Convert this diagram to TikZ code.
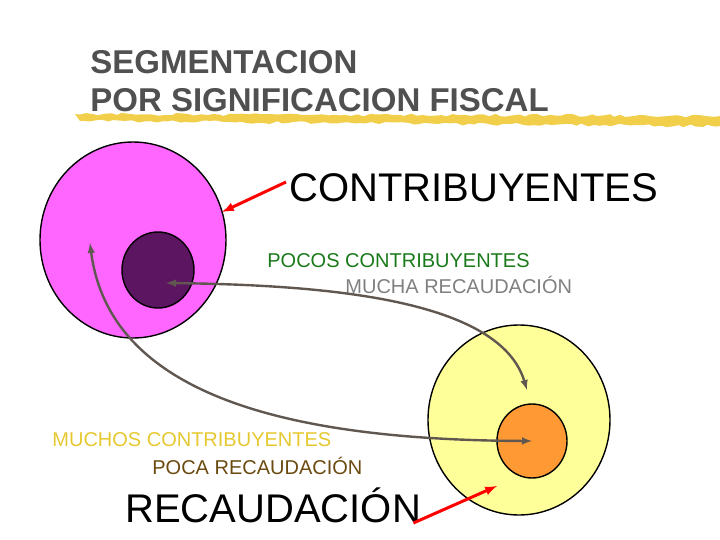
\documentclass[tikz,border=0pt]{standalone}
\usepackage{fontspec}
\setmainfont{Liberation Sans}
\usetikzlibrary{positioning,shapes.geometric,decorations.pathmorphing}
\definecolor{titlegray}{HTML}{505050}
\definecolor{brush}{HTML}{F2CF4A}
\definecolor{pinkset}{HTML}{FF66FF}
\definecolor{darkset}{HTML}{5C1560}
\definecolor{yellowset}{HTML}{FFFF99}
\definecolor{orangeset}{HTML}{FF9933}
\definecolor{greentxt}{HTML}{1A7A1A}
\definecolor{graytxt}{HTML}{808080}
\definecolor{goldtxt}{HTML}{E6C830}
\definecolor{browntxt}{HTML}{6B4A10}
\definecolor{linkgray}{HTML}{605850}

\begin{document}
\begin{tikzpicture}[x=1pt,y=-1pt,thick,
                    set/.style={ellipse,draw,line width=1.4pt},
                    big label/.style={font=\fontsize{40}{40}\selectfont,anchor=west,inner sep=0pt},
                    small label/.style={font=\fontsize{20}{20}\selectfont,anchor=west,inner sep=0pt},
                    pointer/.style={red,line width=3pt,-latex},
                    link/.style={linkgray,line width=2.4pt,latex-latex}]
  \useasboundingbox (0,0) rectangle (720,540);

  % title and brush stroke
  \fill[brush,decorate,decoration={random steps,segment length=6pt,amplitude=1.5pt}]
    (75,114) -- (720,116) -- (720,126) -- (80,121) -- cycle;
  \node[anchor=west,inner sep=0pt,text=titlegray,font=\fontsize{33}{33}\selectfont\bfseries] (title1) at (90,62) {SEGMENTACION};
  \node[anchor=west,inner sep=0pt,text=titlegray,font=\fontsize{33}{33}\selectfont\bfseries] (title2) at (90,100) {POR SIGNIFICACION FISCAL};

  % sets
  \node[set,fill=pinkset,minimum width=186pt,minimum height=196pt] (pink) at (133,240) {};
  \node[set,fill=darkset,minimum width=72pt,minimum height=76pt] (dark) at (158,270) {};
  \node[set,fill=yellowset,minimum width=182pt,minimum height=190pt] (yellow) at (519,420) {};
  \node[set,fill=orangeset,minimum width=70pt,minimum height=74pt] (orange) at (532,441) {};

  % labels
  \node[big label] (contrib) at (289,188) {CONTRIBUYENTES};
  \node[big label] (recaud) at (125,505) {RECAUDACIÓN};
  \node[small label,text=greentxt] (pocos) at (267,261) {POCOS CONTRIBUYENTES};
  \node[small label,text=graytxt] (mucha) at (345,285) {MUCHA RECAUDACIÓN};
  \node[small label,text=goldtxt] (muchos) at (52,440) {MUCHOS CONTRIBUYENTES};
  \node[small label,text=browntxt] (poca) at (152,466) {POCA RECAUDACIÓN};

  % pointers
  \coordinate (cTip) at (222,212);
  \coordinate (rTip) at (497,486);
  \draw[pointer] (contrib.west) ++(-3,-6) -- (cTip);
  \draw[pointer] (recaud.east) ++(-8,18) -- (rTip);

  % links
  \coordinate (pinkEnd) at (90,243);
  \coordinate (yellowEnd) at (527,390);
  \draw[link] (dark.center) ++(8,13) .. controls (330,285) and (500,300) .. (yellowEnd);
  \draw[link] (pinkEnd) .. controls (110,400) and (300,440) .. (orange.center);
\end{tikzpicture}
\end{document}
